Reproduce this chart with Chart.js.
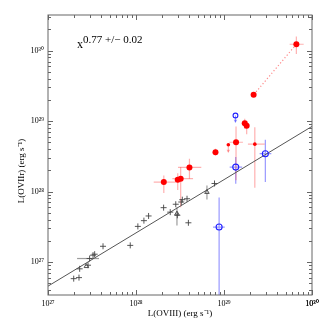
<!DOCTYPE html>
<html>
<head>
<meta charset="utf-8">
<script src="https://cdn.jsdelivr.net/npm/chart.js@4.4.1/dist/chart.umd.min.js"></script>
<style>
  html, body { margin: 0; padding: 0; background: #fff; }
</style>
</head>
<body>
<canvas id="container" width="327" height="327"></canvas>
<script>
let ctx = document.getElementById('container').getContext('2d');

// luminosities in erg/s
// red: filled points
let redX = [6.64e29, 2.17e29, 1.72e29, 1.81e29, 1.37e29, 8.0e28, 4.05e28, 2.07e28, 2.98e28, 3.22e28, 2.24e29, 1.12e29];
let redY = [1.23e30, 2.36e29, 9.3e28, 8.6e28, 5.0e28, 3.62e28, 2.2e28, 1.36e28, 1.47e28, 1.52e28, 4.7e28, 4.6e28];
let redXErr = [[5.57e29, 8.04e29], null, null, null, [1.15e29, 1.64e29], null, [3.0e28, 5.52e28], [1.59e28, 2.83e28], null, [2.59e28, 4.45e28], [1.87e29, 2.9e29], null];
let redYErr = [[8.97e29, 1.58e30], null, [7.8e28, 1.08e29], [6.5e28, 1.0e29], [1.44e28, 8.4e28], [3.25e28, 4.05e28], [1.52e28, 2.92e28], [9.5e27, 1.69e28], [1.05e28, 1.82e28], [6.0e27, 2.22e28], [1.13e28, 8.2e28], null];
let redSize = [3, 3, 3, 3, 3, 3, 3, 3, 3, 3, 1.8, 1.8];
let redLimit = [null, null, null, null, null, null, null, null, null, null, null, 3.6e28];

// blue: open circles
let blueX = [1.35e29, 2.95e29, 1.36e29, 8.8e28];
let blueY = [1.2e29, 3.44e28, 2.22e28, 3.13e27];
let blueXErr = [null, [2.54e29, 3.45e29], [1.16e29, 1.61e29], [7.5e28, 1.02e29]];
let blueYErr = [null, [1.36e28, 5.42e28], [1.29e28, 3.08e28], [1e26, 8.2e27]];
let blueSize = [2.4, 3, 3, 3];
let blueLimit = [9.6e28, null, null, null];

// grey: crosses and triangles
let greyX = [1.96e27, 2.25e27, 2.29e27, 2.73e27, 2.85e27, 2.97e27, 3.25e27, 3.39e27, 4.22e27, 8.6e27, 1.05e28, 1.23e28, 1.39e28, 2.06e28, 2.45e28, 2.83e28, 2.92e28, 2.95e28, 3.27e28, 3.36e28, 3.8e28, 3.94e28, 6.4e28, 7.8e28];
let greyY = [5.8e26, 6.0e26, 8.0e26, 8.7e26, 9.0e26, 1.12e27, 1.25e27, 1.29e27, 1.67e27, 1.72e27, 3.2e27, 3.86e27, 4.5e27, 5.9e27, 5.1e27, 6.6e27, 4.85e27, 4.6e27, 7.1e27, 7.66e27, 7.9e27, 3.6e27, 9.8e27, 1.3e28];
let greyTri = [0, 0, 0, 1, 0, 0, 0, 0, 0, 0, 0, 0, 0, 0, 0, 0, 1, 0, 0, 0, 0, 0, 1, 0];
let greyXErr = {5: [2.14e27, 3.8e27]};
let greyYErr = {16: [3.3e27, 6.0e27], 22: [7.7e27, 1.22e28]};

// power-law fit, slope 0.77
let fitX = [1e27, 1e30];
let fitY = [4.54e26, 8.4e28];

let supDigits = '⁰¹²³⁴⁵⁶⁷⁸⁹';
function decade(v) {
  let e = Math.log10(v);
  if (Math.abs(e - Math.round(e)) > 1e-6) return '';
  return '10' + String(Math.round(e)).split('').map(c => supDigits[+c]).join('');
}

function pts(xs, ys) {
  return xs.map((x, i) => ({x: x, y: ys[i]}));
}

function listErr(obj, n) {
  let out = [];
  for (let i = 0; i < n; i++) out.push(obj[i] || null);
  return out;
}

let tickFont = {family: 'Liberation Serif', size: 8};

// error bars and upper-limit arrows, drawn under the markers
let errorBars = {
  id: 'errorBars',
  beforeDatasetsDraw(chart) {
    let c = chart.ctx, a = chart.chartArea;
    let xs = chart.scales.x, ys = chart.scales.y;
    c.save();
    c.beginPath();
    c.rect(a.left, a.top, a.right - a.left, a.bottom - a.top);
    c.clip();
    chart.data.datasets.forEach(ds => {
      if (!ds.errColor) return;
      c.strokeStyle = ds.errColor;
      c.fillStyle = ds.errColor;
      c.lineWidth = 1.2;
      ds.data.forEach((p, i) => {
        let px = xs.getPixelForValue(p.x), py = ys.getPixelForValue(p.y);
        let ex = ds.xErr && ds.xErr[i], ey = ds.yErr && ds.yErr[i];
        c.beginPath();
        if (ex) { c.moveTo(xs.getPixelForValue(ex[0]), py); c.lineTo(xs.getPixelForValue(ex[1]), py); }
        if (ey) { c.moveTo(px, ys.getPixelForValue(ey[0])); c.lineTo(px, ys.getPixelForValue(ey[1])); }
        c.stroke();
        let lim = ds.limit && ds.limit[i];
        if (lim) {
          let ty = ys.getPixelForValue(lim);
          c.beginPath();
          c.moveTo(px, py); c.lineTo(px, ty);
          c.stroke();
          c.beginPath();
          c.moveTo(px - 1.8, ty - 2.5); c.lineTo(px + 1.8, ty - 2.5); c.lineTo(px, ty + 0.5);
          c.closePath();
          c.fill();
        }
      });
    });
    c.restore();
  }
};

// frame with inward ticks on all four sides, plus texts
let frame = {
  id: 'frame',
  afterDraw(chart) {
    let c = chart.ctx, a = chart.chartArea;
    let xs = chart.scales.x, ys = chart.scales.y;
    c.save();
    c.strokeStyle = '#666';
    c.lineWidth = 1;
    c.strokeRect(a.left, a.top, a.right - a.left, a.bottom - a.top);
    let isMinor = v => {
      let e = Math.floor(Math.log10(v) + 1e-9);
      let s = v / Math.pow(10, e);
      return Math.abs(s - Math.round(s)) < 1e-6 ? (Math.round(s) === 1 ? 5 : 3) : 0;
    };
    c.beginPath();
    xs.ticks.forEach(t => {
      let len = isMinor(t.value);
      if (!len || t.value < xs.min || t.value > xs.max) return;
      let px = Math.round(xs.getPixelForValue(t.value)) + 0.5;
      c.moveTo(px, a.bottom); c.lineTo(px, a.bottom - len);
      c.moveTo(px, a.top); c.lineTo(px, a.top + len);
    });
    ys.ticks.forEach(t => {
      let len = isMinor(t.value);
      if (!len || t.value < ys.min || t.value > ys.max) return;
      let py = Math.round(ys.getPixelForValue(t.value)) + 0.5;
      c.moveTo(a.left, py); c.lineTo(a.left + len, py);
      c.moveTo(a.right, py); c.lineTo(a.right - len, py);
    });
    c.stroke();

    c.fillStyle = '#000';
    c.textBaseline = 'alphabetic';
    c.textAlign = 'left';
    c.font = '12px "Liberation Serif"';
    c.fillText('x', 77, 48);
    c.font = '11px "Liberation Serif"';
    c.fillText('0.77 +/\u2212 0.02', 83, 43);

    c.font = '9px "Liberation Serif"';
    c.textAlign = 'center';
    c.textBaseline = 'middle';
    c.fillText('L(OVIII) (erg s\u207B\u00B9)', 180, 314);
    c.translate(21.5, 171);
    c.rotate(-Math.PI / 2);
    c.fillText('L(OVIIr) (erg s\u207B\u00B9)', 0, 0);
    c.restore();
  }
};

let myChart = new Chart(ctx, {
  type: 'scatter',
  data: {
    datasets: [
      {
        data: pts(blueX, blueY),
        xErr: blueXErr, yErr: blueYErr, limit: blueLimit,
        errColor: 'rgba(70,70,255,0.55)',
        pointStyle: 'circle',
        pointRadius: blueSize,
        backgroundColor: 'rgba(0,0,0,0)',
        borderColor: '#2020ff',
        borderWidth: 1.1
      },
      {
        data: pts(redX, redY),
        xErr: redXErr, yErr: redYErr, limit: redLimit,
        errColor: 'rgba(255,60,60,0.4)',
        pointRadius: redSize,
        backgroundColor: '#ff0000',
        borderWidth: 0
      },
      {
        data: pts(greyX, greyY),
        xErr: listErr(greyXErr, greyX.length), yErr: listErr(greyYErr, greyX.length),
        errColor: 'rgba(90,90,90,0.6)',
        pointStyle: greyTri.map(t => t ? 'triangle' : 'cross'),
        pointRadius: greyTri.map(t => t ? 2.6 : 3),
        backgroundColor: 'rgba(0,0,0,0)',
        borderColor: '#444',
        borderWidth: 0.9
      },
      {
        type: 'line',
        data: pts(redX.slice(0, 2), redY.slice(0, 2)),
        borderColor: 'rgba(255,60,60,0.6)',
        borderWidth: 1.2,
        borderDash: [1.2, 2.2],
        pointRadius: 0
      },
      {
        type: 'line',
        data: pts(fitX, fitY),
        borderColor: '#555',
        borderWidth: 1,
        pointRadius: 0
      }
    ]
  },
  options: {
    responsive: false,
    animation: false,
    layout: {padding: {top: 15, right: 15, left: 0, bottom: 0}},
    plugins: {legend: {display: false}, tooltip: {enabled: false}},
    scales: {
      x: {
        type: 'logarithmic',
        min: 1e27, max: 1e30,
        grid: {display: false, drawTicks: false},
        border: {display: false},
        ticks: {autoSkip: false, maxRotation: 0, font: tickFont, color: '#000', padding: 4, callback: decade},
        afterFit: s => { s.height = 32; }
      },
      y: {
        type: 'logarithmic',
        min: 3.4e26, max: 3.2e30,
        grid: {display: false, drawTicks: false},
        border: {display: false},
        ticks: {autoSkip: false, font: tickFont, color: '#000', padding: 4, callback: decade},
        afterFit: s => { s.width = 48; }
      }
    }
  },
  plugins: [errorBars, frame]
});
</script>
</body>
</html>
